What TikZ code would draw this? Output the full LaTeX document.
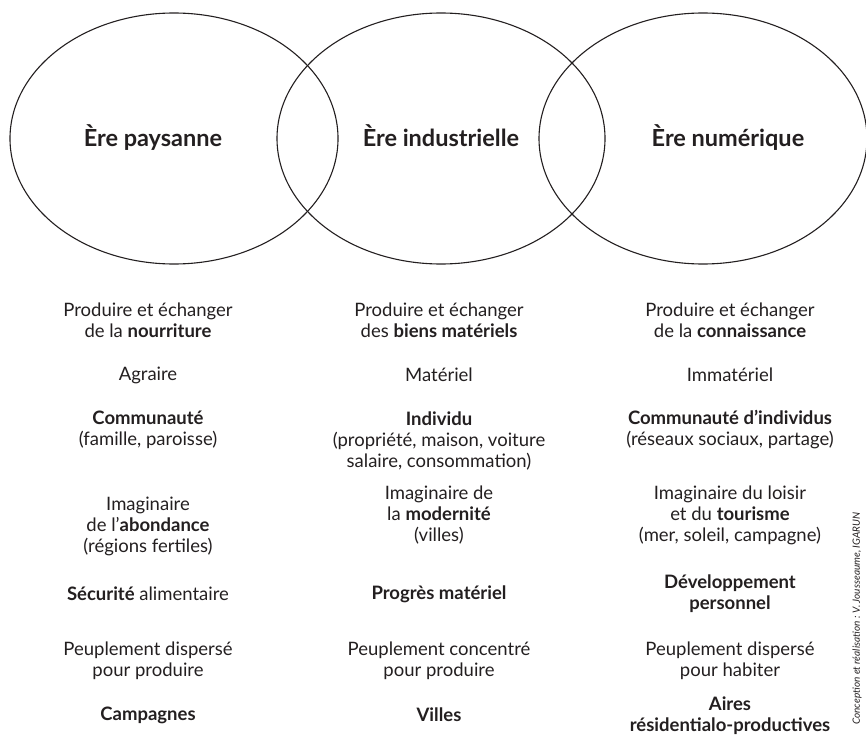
\documentclass[tikz,border=0pt]{standalone}
\usepackage{fontspec}
\setmainfont{Lato}
\usetikzlibrary{shapes.geometric}
\definecolor{ink}{RGB}{35,31,32}
\begin{document}
\begin{tikzpicture}[x=1pt, y=-1pt, thick,
    era/.style = {draw=ink, ellipse, line width=1.1pt, inner sep=0pt, minimum width=328pt, minimum height=251pt},
    title/.style = {text=ink, inner sep=0pt, anchor=base, font=\bfseries\fontsize{23.5}{27}\selectfont},
    txt/.style = {text=ink, inner sep=0pt, align=center, font=\fontsize{18.5}{21}\selectfont},
    credit/.style = {text=ink, inner sep=0pt, font=\itshape\fontsize{10}{12}\selectfont}]
    \useasboundingbox (0,0) rectangle (866,738);
    \node[era] (e1) at (174,138.5) {};
    \node[era] (e2) at (441,138.5) {};
    \node[era] (e3) at (703,138.5) {};
    \node[title] (t1) at (153,146.5) {Ère paysanne};
    \node[title] (t2) at (441,146.5) {Ère industrielle};
    \node[title] (t3) at (728,146.5) {Ère numérique};

    \node[txt] (a1) at (148,320) {Produire et échanger\\de la \textbf{nourriture}};
    \node[txt] (a2) at (148,375) {Agraire};
    \node[txt] (a3) at (148,430) {\textbf{Communauté}\\(famille, paroisse)};
    \node[txt] (a4) at (148,526) {Imaginaire\\de l’\textbf{abondance}\\(régions fertiles)};
    \node[txt] (a5) at (148,594) {\textbf{Sécurité} alimentaire};
    \node[txt] (a6) at (148,661) {Peuplement dispersé\\pour produire};
    \node[txt] (a7) at (148,715) {\textbf{Campagnes}};

    \node[txt] (b1) at (439,320) {Produire et échanger\\des \textbf{biens matériels}};
    \node[txt] (b2) at (439,375) {Matériel};
    \node[txt] (b3) at (439,440.5) {\textbf{Individu}\\(propriété, maison, voiture\\salaire, consommation)};
    \node[txt] (b4) at (439,515) {Imaginaire de\\la \textbf{modernité}\\(villes)};
    \node[txt] (b5) at (439,594) {\textbf{Progrès matériel}};
    \node[txt] (b6) at (439,661) {Peuplement concentré\\pour produire};
    \node[txt] (b7) at (439,715) {\textbf{Villes}};

    \node[txt] (c1) at (730,320) {Produire et échanger\\de la \textbf{connaissance}};
    \node[txt] (c2) at (730,375) {Immatériel};
    \node[txt] (c3) at (730,430) {\textbf{Communauté d’individus}\\(réseaux sociaux, partage)};
    \node[txt] (c4) at (730,515) {Imaginaire du loisir\\et du \textbf{tourisme}\\(mer, soleil, campagne)};
    \node[txt] (c5) at (730,593.5) {\textbf{Développement}\\\textbf{personnel}};
    \node[txt] (c6) at (730,661) {Peuplement dispersé\\pour habiter};
    \node[txt] (c7) at (730,715.5) {\textbf{Aires}\\\textbf{résidentialo-productives}};

    \node[credit, rotate=90, anchor=west] (cr) at (857,725) {Conception et réalisation : V. Jousseaume, IGARUN};
\end{tikzpicture}
\end{document}
